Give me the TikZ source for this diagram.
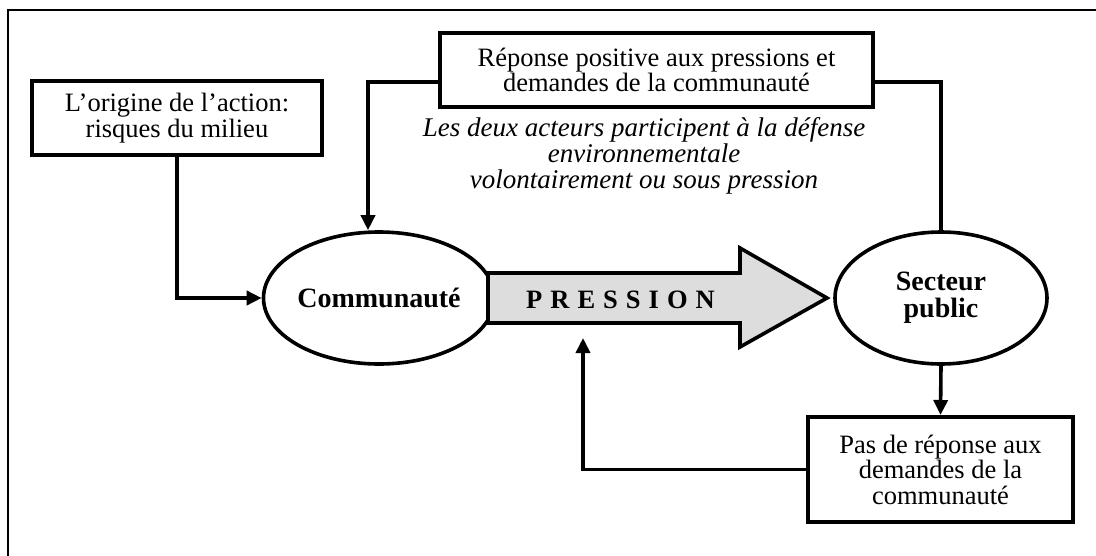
\documentclass[tikz,border=0pt]{standalone}
\usepackage{fontspec}
\setmainfont{Liberation Serif}
\usetikzlibrary{shapes.geometric,arrows.meta,calc}
\definecolor{pgray}{HTML}{DDDDDD}
\begin{document}
\begin{tikzpicture}[x=1pt,y=-1pt,
  tbox/.style={draw,line width=4pt,align=center,inner sep=0pt,font=\fontsize{26.5}{25.5}\selectfont},
  oval/.style={draw,ellipse,line width=3.6pt,inner sep=0pt,align=center,font=\fontsize{28}{27}\selectfont\bfseries},
  conn/.style={line width=3.6pt},
  tip/.style={-{Triangle[length=15pt,width=14pt]}},
  note/.style={align=center,inner sep=0pt,font=\fontsize{27}{26}\selectfont\itshape}]
\useasboundingbox (0,0) rectangle (1096,555);
% frame (only left and top visible)
\draw[line width=2.5pt] (8,560) -- (8,10) -- (1100,10);

\node[tbox,minimum width=290pt,minimum height=74pt] (origine) at (177,118)
  {L’origine de l’action:\\risques du milieu};
\node[tbox,minimum width=433pt,minimum height=74pt] (positive) at (656.5,70)
  {Réponse positive aux pressions et\\demandes de la communauté};
\node[note] (acteurs) at (644,156)
  {Les deux acteurs participent à la défense\\environnementale\\volontairement ou sous pression};
\node[oval,minimum width=216pt,minimum height=132pt] (comm) at (379,298) {Communauté};
\node[oval,minimum width=212pt,minimum height=132pt] (sect) at (941,298) {Secteur\\public};
\node[tbox,minimum width=265pt,minimum height=105pt] (pas) at (940.5,469.5)
  {Pas de réponse aux\\demandes de la\\communauté};

% pressure arrow
\draw[line width=3.6pt,fill=pgray,line join=miter]
  (488,273) -- (740,273) -- (740,248) -- (827,298) -- (740,347) -- (740,323) -- (488,323) -- cycle;
\node[anchor=base,inner sep=0pt,font=\fontsize{26.5}{26}\selectfont\bfseries] (press) at (620.5,308)
  {{\spaceskip=8pt\relax P R E S S I O N}};

% connectors
\draw[conn,tip] (origine.south) |- (comm.west);
\draw[conn,tip] ([yshift=-12pt]positive.west) -| ([xshift=-11pt]comm.north);
\draw[conn] ([yshift=-12pt]positive.east) -| (sect.north);
\draw[conn,tip] (sect.south) -- (pas.north);
\coordinate (fb) at (583,338);
\draw[conn,tip] (pas.west) -| (fb);
\end{tikzpicture}
\end{document}
